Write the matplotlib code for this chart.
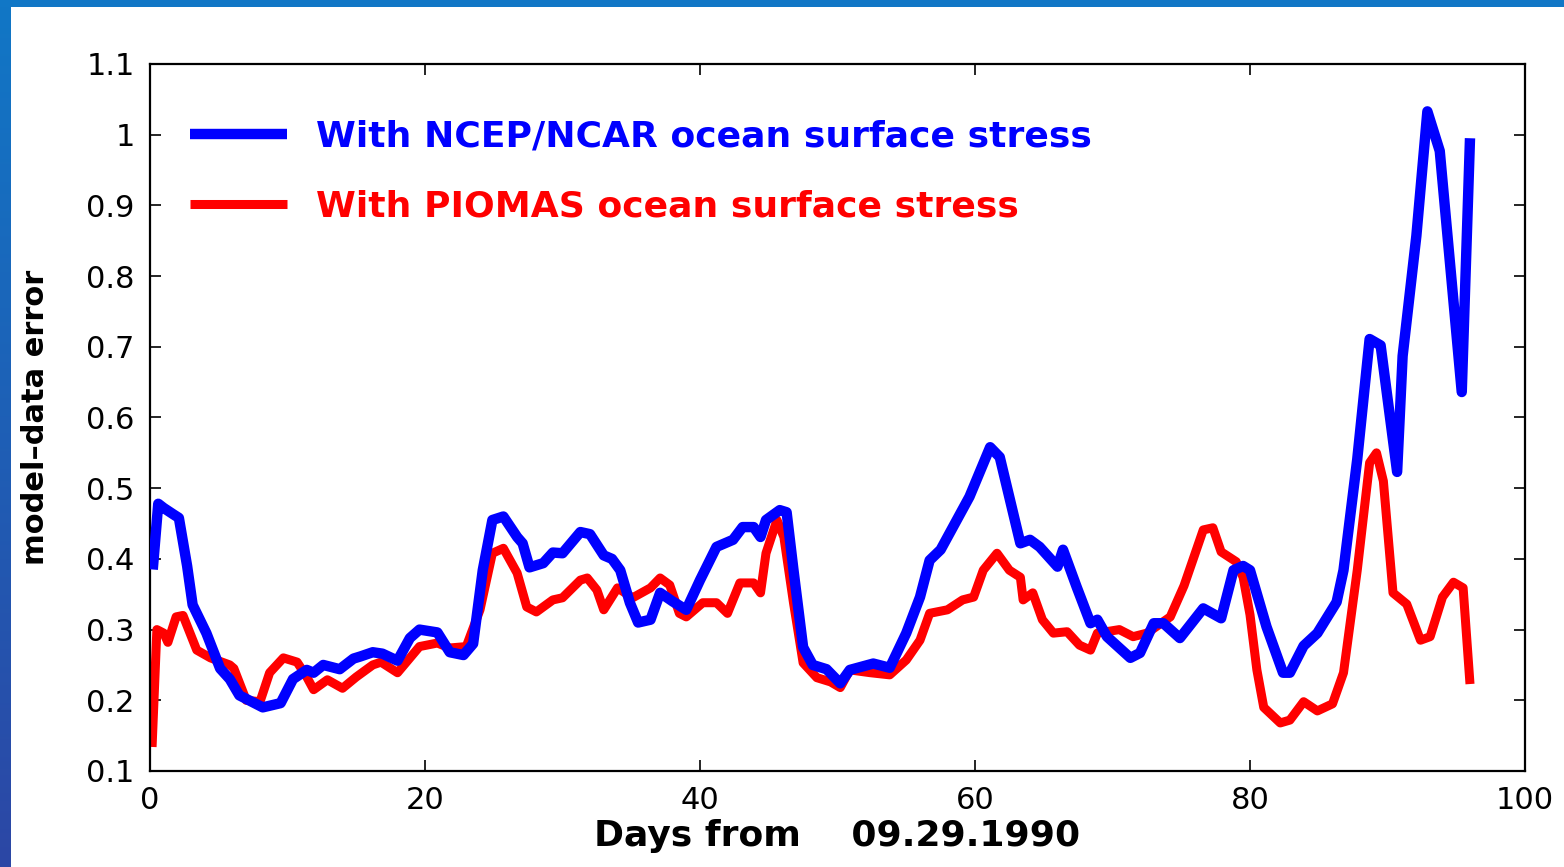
import matplotlib
matplotlib.use("Agg")
import matplotlib.pyplot as plt
import numpy as np
from matplotlib.patches import Rectangle
from matplotlib.ticker import FormatStrFormatter

# Model-data error, NCEP/NCAR ocean surface stress run
ncep_days = [0.2, 0.6, 1.0, 1.7, 2.1, 2.7, 3.1, 4.1, 5.1, 5.8, 6.5, 7.5, 8.2, 9.5,
             10.4, 11.4, 11.9, 12.6, 13.8, 14.8, 15.3, 16.2, 16.9, 18.0, 18.9, 19.6,
             20.9, 21.8, 22.8, 23.5, 24.2, 24.9, 25.7, 26.7, 27.1, 27.6, 28.6, 29.3,
             30.0, 31.3, 32.0, 33.0, 33.6, 34.2, 34.9, 35.5, 36.4, 37.1, 38.0, 39.0,
             40.0, 41.2, 42.4, 43.1, 43.9, 44.4, 44.8, 45.8, 46.3, 46.8, 47.5, 48.2,
             49.2, 50.2, 50.9, 52.6, 53.8, 55.0, 56.0, 56.7, 57.5, 59.6, 61.1, 61.8,
             63.3, 64.0, 64.7, 66.0, 66.4, 67.4, 68.4, 68.9, 69.6, 71.3, 72.0, 73.0,
             73.7, 74.9, 76.6, 77.9, 78.8, 79.5, 80.0, 81.2, 82.4, 82.9, 83.9, 84.9,
             86.3, 86.8, 87.8, 88.7, 89.5, 90.7, 91.1, 92.1, 92.9, 93.8, 95.4, 96.0]
ncep_err = [0.385, 0.478, 0.472, 0.463, 0.458, 0.390, 0.335, 0.295, 0.245, 0.230,
            0.207, 0.197, 0.190, 0.196, 0.230, 0.243, 0.239, 0.250, 0.244, 0.259,
            0.262, 0.268, 0.266, 0.256, 0.288, 0.300, 0.296, 0.268, 0.264, 0.280,
            0.384, 0.455, 0.460, 0.431, 0.422, 0.388, 0.394, 0.409, 0.408, 0.438,
            0.435, 0.405, 0.400, 0.384, 0.338, 0.310, 0.314, 0.352, 0.340, 0.328,
            0.370, 0.417, 0.427, 0.445, 0.445, 0.431, 0.455, 0.469, 0.466, 0.384,
            0.275, 0.250, 0.244, 0.224, 0.243, 0.252, 0.246, 0.295, 0.346, 0.398,
            0.413, 0.488, 0.558, 0.544, 0.422, 0.427, 0.417, 0.389, 0.413, 0.360,
            0.309, 0.314, 0.290, 0.260, 0.267, 0.309, 0.309, 0.288, 0.330, 0.316,
            0.384, 0.390, 0.384, 0.304, 0.239, 0.239, 0.277, 0.295, 0.339, 0.384,
            0.541, 0.711, 0.702, 0.523, 0.687, 0.857, 1.033, 0.977, 0.636, 0.995]

# Model-data error, PIOMAS ocean surface stress run
piomas_days = [0.15, 0.5, 1.0, 1.3, 1.9, 2.4, 3.4, 4.4, 5.8, 6.1, 7.0, 8.0, 8.7, 9.7,
               10.7, 11.4, 11.9, 12.9, 14.0, 15.0, 16.2, 16.8, 18.0, 19.6, 20.9, 21.8,
               23.0, 24.0, 24.9, 25.7, 26.7, 27.4, 28.1, 29.3, 30.0, 31.3, 31.8, 32.5,
               33.0, 34.0, 35.1, 36.4, 37.1, 37.8, 38.5, 39.0, 40.2, 41.2, 42.0, 42.9,
               43.9, 44.4, 44.8, 45.6, 46.1, 46.8, 47.5, 48.5, 49.5, 50.2, 50.9, 52.4,
               53.8, 55.0, 56.0, 56.7, 58.0, 59.1, 59.9, 60.6, 61.6, 62.5, 63.3, 63.5,
               64.2, 64.9, 65.7, 66.7, 67.6, 68.4, 68.9, 70.5, 71.5, 72.5, 74.2, 75.2,
               76.6, 77.3, 77.9, 79.0, 79.5, 80.0, 80.5, 81.0, 82.2, 82.9, 83.9, 84.9,
               86.0, 86.8, 87.8, 88.7, 89.2, 89.7, 90.4, 91.4, 92.4, 93.1, 94.0, 94.8,
               95.5, 96.0]
piomas_err = [0.134, 0.300, 0.295, 0.282, 0.318, 0.320, 0.271, 0.260, 0.250, 0.245,
              0.200, 0.198, 0.239, 0.260, 0.254, 0.233, 0.215, 0.229, 0.217, 0.233,
              0.250, 0.254, 0.239, 0.276, 0.281, 0.274, 0.276, 0.328, 0.408, 0.415,
              0.380, 0.332, 0.325, 0.342, 0.345, 0.370, 0.373, 0.356, 0.328, 0.359,
              0.345, 0.359, 0.373, 0.363, 0.323, 0.318, 0.338, 0.338, 0.323, 0.366,
              0.366, 0.352, 0.408, 0.455, 0.431, 0.338, 0.253, 0.232, 0.226, 0.218,
              0.243, 0.239, 0.236, 0.257, 0.285, 0.323, 0.328, 0.342, 0.346, 0.384,
              0.408, 0.384, 0.374, 0.342, 0.352, 0.314, 0.295, 0.297, 0.278, 0.271,
              0.295, 0.300, 0.290, 0.295, 0.318, 0.362, 0.441, 0.444, 0.410, 0.396,
              0.374, 0.321, 0.243, 0.190, 0.168, 0.172, 0.198, 0.185, 0.195, 0.239,
              0.384, 0.536, 0.550, 0.510, 0.352, 0.336, 0.285, 0.290, 0.346, 0.367,
              0.359, 0.223]

x_ticks = [0, 20, 40, 60, 80, 100]
y_ticks = [0.1, 0.2, 0.3, 0.4, 0.5, 0.6, 0.7, 0.8, 0.9, 1.0, 1.1]
labels = ["With NCEP/NCAR ocean surface stress", "With PIOMAS ocean surface stress"]

W, H = 1564, 867
fig = plt.figure(figsize=(W / 100, H / 100), dpi=100)
fig.patch.set_facecolor("white")

# slide frame: blue strip on top, shaded strip down the left edge
top_c = np.array([0x11, 0x77, 0xC6]) / 255
bot_c = np.array([0x2C, 0x47, 0xA5]) / 255
t = np.linspace(0, 1, 256)[:, None, None]
grad = top_c[None, None, :] * (1 - t) + bot_c[None, None, :] * t
band = fig.add_axes([0, 0, 11 / W, 1])
band.imshow(grad, aspect="auto", interpolation="bilinear")
band.axis("off")
fig.add_artist(Rectangle((0, 1 - 7 / H), 1, 7 / H, transform=fig.transFigure,
                         facecolor=top_c, edgecolor="none"))

ax = fig.add_axes([150 / W, 1 - 771 / H, 1375 / W, 707 / H])
ax.plot(piomas_days, piomas_err, color="#FF0000", lw=6.5,
        solid_joinstyle="round", solid_capstyle="butt", label=labels[1], zorder=2)
ax.plot(ncep_days, ncep_err, color="#0000FF", lw=7.5,
        solid_joinstyle="round", solid_capstyle="butt", label=labels[0], zorder=3)

ax.set_xlim(0, 100)
ax.set_ylim(0.1, 1.1)
ax.set_xticks(x_ticks)
ax.set_yticks(y_ticks)
ax.yaxis.set_major_formatter(FormatStrFormatter("%g"))
ax.tick_params(direction="in", length=8, width=1.2, top=True, right=True,
               labelsize=22, pad=11)
for s in ax.spines.values():
    s.set_linewidth(1.6)

ax.set_xlabel("Days from    09.29.1990", fontsize=26, fontweight="bold", labelpad=3)
ax.set_ylabel("model\u2013data error", fontsize=22, fontweight="bold", labelpad=26)

handles, labs = ax.get_legend_handles_labels()
leg = ax.legend(handles[::-1], labs[::-1], loc="upper left",
                bbox_to_anchor=(0.029, 0.922), frameon=False,
                prop={"weight": "bold", "size": 26}, handlelength=2.7,
                handletextpad=0.8, labelspacing=1.0, borderpad=0, borderaxespad=0)
for txt, c in zip(leg.get_texts(), ["#0000FF", "#FF0000"]):
    txt.set_color(c)

fig.savefig("out.png", dpi=100)
